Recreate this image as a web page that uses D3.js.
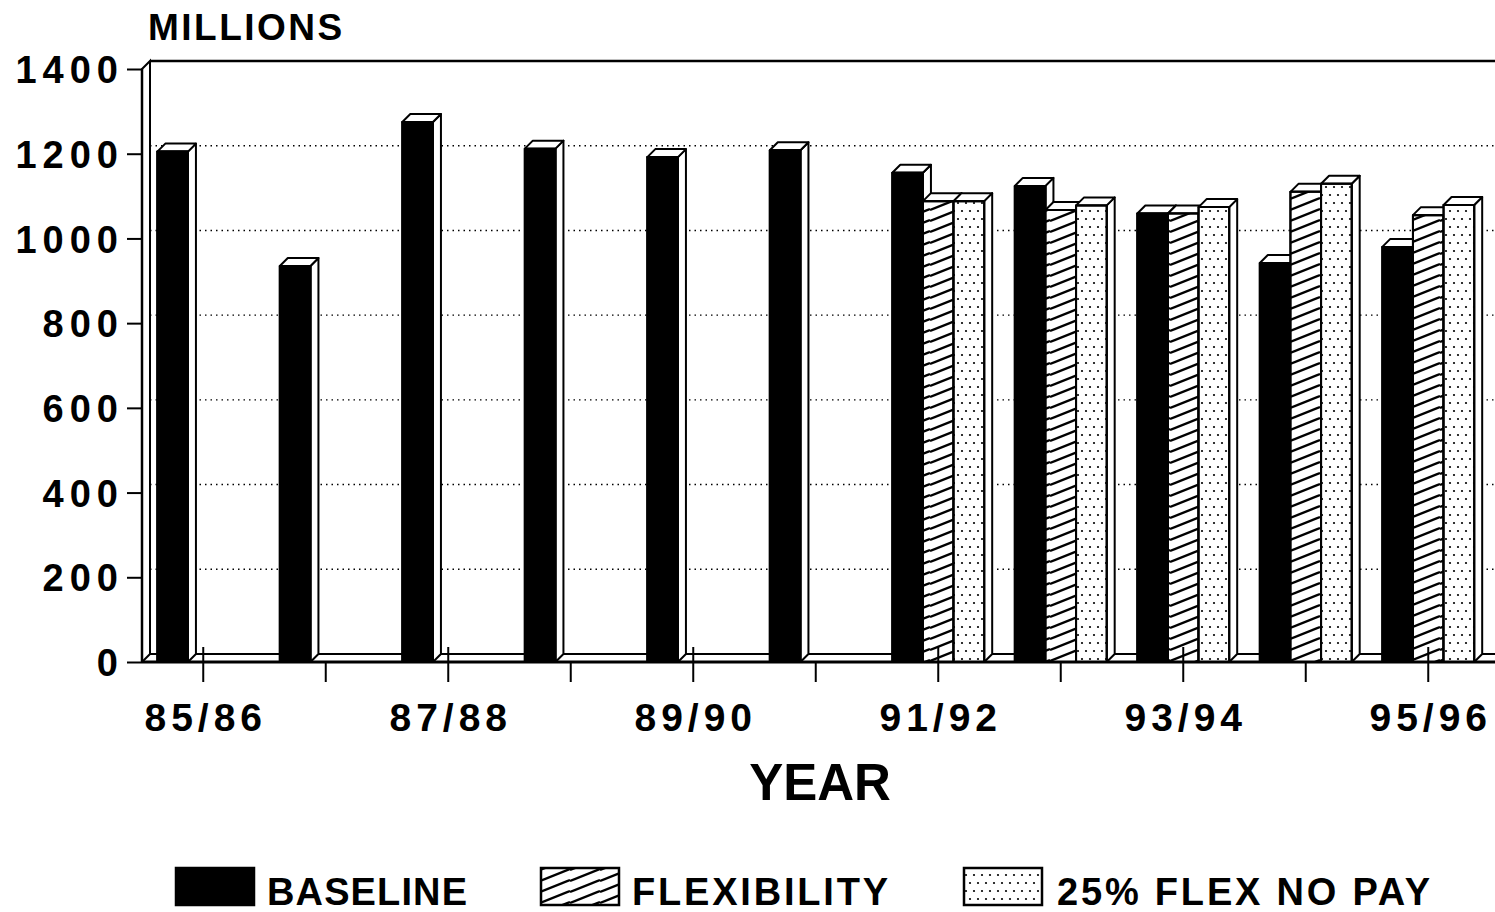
<!DOCTYPE html>
<html>
<head>
<meta charset="utf-8">
<script src="https://cdn.jsdelivr.net/npm/d3@7"></script>
<style>
  html, body { margin: 0; padding: 0; background: #fff; }
  svg { display: block; font-family: "Liberation Sans", Arial, sans-serif; font-weight: bold; }
</style>
</head>
<body>
<div id="chart"></div>
<script>
// Budget projections, millions, by fiscal year
const categories = ["85/86", "86/87", "87/88", "88/89", "89/90", "90/91", "91/92", "92/93", "93/94", "94/95", "95/96"];
const labelledYears = ["85/86", "87/88", "89/90", "91/92", "93/94", "95/96"];
const baseline    = [1205, 935, 1275, 1212, 1192, 1208, 1155, 1124, 1059, 942, 980];
const flexibility = [null, null, null, null, null, null, 1088, 1067, 1059, 1110, 1055];
const flexNoPay   = [null, null, null, null, null, null, 1088, 1078, 1074, 1129, 1079];
const yTicks = [0, 200, 400, 600, 800, 1000, 1200, 1400];
const seriesNames = ["BASELINE", "FLEXIBILITY", "25% FLEX NO PAY"];

const W = 1495, H = 912;
const left = 142, floorY = 662, topY = 69, rightEdge = W;
const dx = 8, dy = 8;   // oblique depth of the 3D effect

const svg = d3.select("#chart").append("svg")
    .attr("width", W)
    .attr("height", H);

svg.append("rect").attr("width", W).attr("height", H).attr("fill", "#fff");

// fill patterns
const defs = svg.append("defs");
const hatch = defs.append("pattern")
    .attr("id", "hatch")
    .attr("patternUnits", "userSpaceOnUse")
    .attr("width", 30).attr("height", 11);
[-11, 0, 11].forEach(o => {
    hatch.append("line")
        .attr("x1", 0).attr("y1", 12 + o)
        .attr("x2", 30).attr("y2", 0 + o)
        .attr("stroke", "#000").attr("stroke-width", 2.4);
});

const dots = defs.append("pattern")
    .attr("id", "dots")
    .attr("patternUnits", "userSpaceOnUse")
    .attr("width", 8).attr("height", 16);
[[2, 3], [6, 11]].forEach(([cx, cy]) => {
    dots.append("circle").attr("cx", cx).attr("cy", cy).attr("r", 1.1).attr("fill", "#000");
});

const fills = ["#000", "url(#hatch)", "url(#dots)"];
const series = [baseline, flexibility, flexNoPay];

const x = d3.scaleBand()
    .domain(categories)
    .range([left, 1489.5])
    .paddingInner(0.25)
    .paddingOuter(0.125);

const slot = d3.scaleBand()
    .domain(d3.range(series.length))
    .range([0, x.bandwidth()]);

const y = d3.scaleLinear()
    .domain([0, 1400])
    .range([floorY, topY]);

// back wall, left wall and floor
svg.append("path")
    .attr("d", `M${left},${floorY}V${topY}L${left + dx},${topY - dy}V${floorY - dy}L${left},${floorY}`)
    .attr("fill", "#fff").attr("stroke", "#000").attr("stroke-width", 2);

svg.append("line")
    .attr("x1", left + dx).attr("x2", rightEdge)
    .attr("y1", y(1400) - dy).attr("y2", y(1400) - dy)
    .attr("stroke", "#000").attr("stroke-width", 2.5);

svg.append("g").selectAll("line")
    .data(yTicks.filter(v => v > 0 && v < 1400))
    .join("line")
    .attr("x1", left + dx).attr("x2", rightEdge)
    .attr("y1", d => y(d) - dy).attr("y2", d => y(d) - dy)
    .attr("stroke", "#000").attr("stroke-width", 1.4)
    .attr("stroke-dasharray", "1.5,4");

svg.append("line")
    .attr("x1", left + dx).attr("x2", rightEdge)
    .attr("y1", floorY - dy).attr("y2", floorY - dy)
    .attr("stroke", "#000").attr("stroke-width", 2);

// bars
const bars = [];
categories.forEach((c, ci) => {
    series.forEach((vals, si) => {
        if (vals[ci] != null) bars.push({ cat: c, s: si, value: vals[ci] });
    });
});

const barG = svg.append("g")
    .selectAll("g")
    .data(bars)
    .join("g")
    .attr("stroke", "#000")
    .attr("stroke-width", 2)
    .attr("stroke-linejoin", "round");

barG.each(function(d) {
    const g = d3.select(this);
    const x0 = x(d.cat) + slot(d.s);
    const w = slot.bandwidth();
    const y0 = y(d.value);
    const y1 = y(0);
    g.append("path")
        .attr("d", `M${x0 + w},${y0}L${x0 + w + dx},${y0 - dy}V${y1 - dy}L${x0 + w},${y1}Z`)
        .attr("fill", "#fff");
    g.append("path")
        .attr("d", `M${x0},${y0}L${x0 + dx},${y0 - dy}H${x0 + w + dx}L${x0 + w},${y0}Z`)
        .attr("fill", "#fff");
    g.append("rect")
        .attr("x", x0).attr("y", y0)
        .attr("width", w).attr("height", y1 - y0)
        .attr("fill", "#fff");
    g.append("rect")
        .attr("x", x0).attr("y", y0)
        .attr("width", w).attr("height", y1 - y0)
        .attr("fill", fills[d.s]);
});

// front floor line
svg.append("line")
    .attr("x1", left).attr("x2", rightEdge)
    .attr("y1", floorY).attr("y2", floorY)
    .attr("stroke", "#000").attr("stroke-width", 3);

// y axis
const ySpacing = 6;
const yAxis = svg.append("g")
    .attr("transform", `translate(${left},0)`)
    .call(d3.axisLeft(y)
        .tickValues(yTicks)
        .tickFormat(d3.format("d"))
        .tickSize(15)
        .tickPadding(9));
yAxis.select(".domain").remove();
yAxis.selectAll("line").attr("stroke", "#000").attr("stroke-width", 2);
yAxis.selectAll("text")
    .attr("fill", "#000")
    .attr("font-size", 38)
    .attr("font-weight", "bold")
    .attr("letter-spacing", ySpacing)
    .attr("dx", ySpacing)
    .attr("dy", "0.36em");

svg.append("line")
    .attr("x1", left).attr("x2", left)
    .attr("y1", topY).attr("y2", floorY)
    .attr("stroke", "#000").attr("stroke-width", 2.5);

// x axis
const xSpacing = 5;
const xAxis = svg.append("g")
    .attr("transform", `translate(0,${floorY})`)
    .call(d3.axisBottom(x)
        .tickSize(20)
        .tickSizeOuter(0)
        .tickPadding(21)
        .tickFormat(d => labelledYears.includes(d) ? d : ""));
xAxis.select(".domain").remove();
xAxis.selectAll("line").attr("stroke", "#000").attr("stroke-width", 2);
xAxis.selectAll(".tick")
    .filter(d => labelledYears.includes(d))
    .select("line")
    .attr("y1", -15);
xAxis.selectAll("text")
    .attr("fill", "#000")
    .attr("font-size", 39)
    .attr("font-weight", "bold")
    .attr("letter-spacing", xSpacing)
    .attr("dx", xSpacing / 2);

// titles
svg.append("text")
    .attr("x", 148).attr("y", 40)
    .attr("font-size", 37)
    .attr("letter-spacing", 2.5)
    .text("MILLIONS");

svg.append("text")
    .attr("x", 820).attr("y", 800)
    .attr("text-anchor", "middle")
    .attr("font-size", 51)
    .text("YEAR");

// legend
const legendX = [176, 541, 964];
const legendTextX = [267, 632, 1057];
const legendTextW = [200, 256, 373];
const legend = svg.append("g")
    .selectAll("g")
    .data(seriesNames)
    .join("g");

legend.append("rect")
    .attr("x", (d, i) => legendX[i]).attr("y", 868)
    .attr("width", 78).attr("height", 37)
    .attr("fill", "#fff");
legend.append("rect")
    .attr("x", (d, i) => legendX[i]).attr("y", 868)
    .attr("width", 78).attr("height", 37)
    .attr("fill", (d, i) => fills[i])
    .attr("stroke", "#000").attr("stroke-width", 2.5);
legend.append("text")
    .attr("x", (d, i) => legendTextX[i]).attr("y", 905)
    .attr("font-size", 38)
    .attr("textLength", (d, i) => legendTextW[i])
    .attr("lengthAdjust", "spacing")
    .text(d => d);
</script>
</body>
</html>
